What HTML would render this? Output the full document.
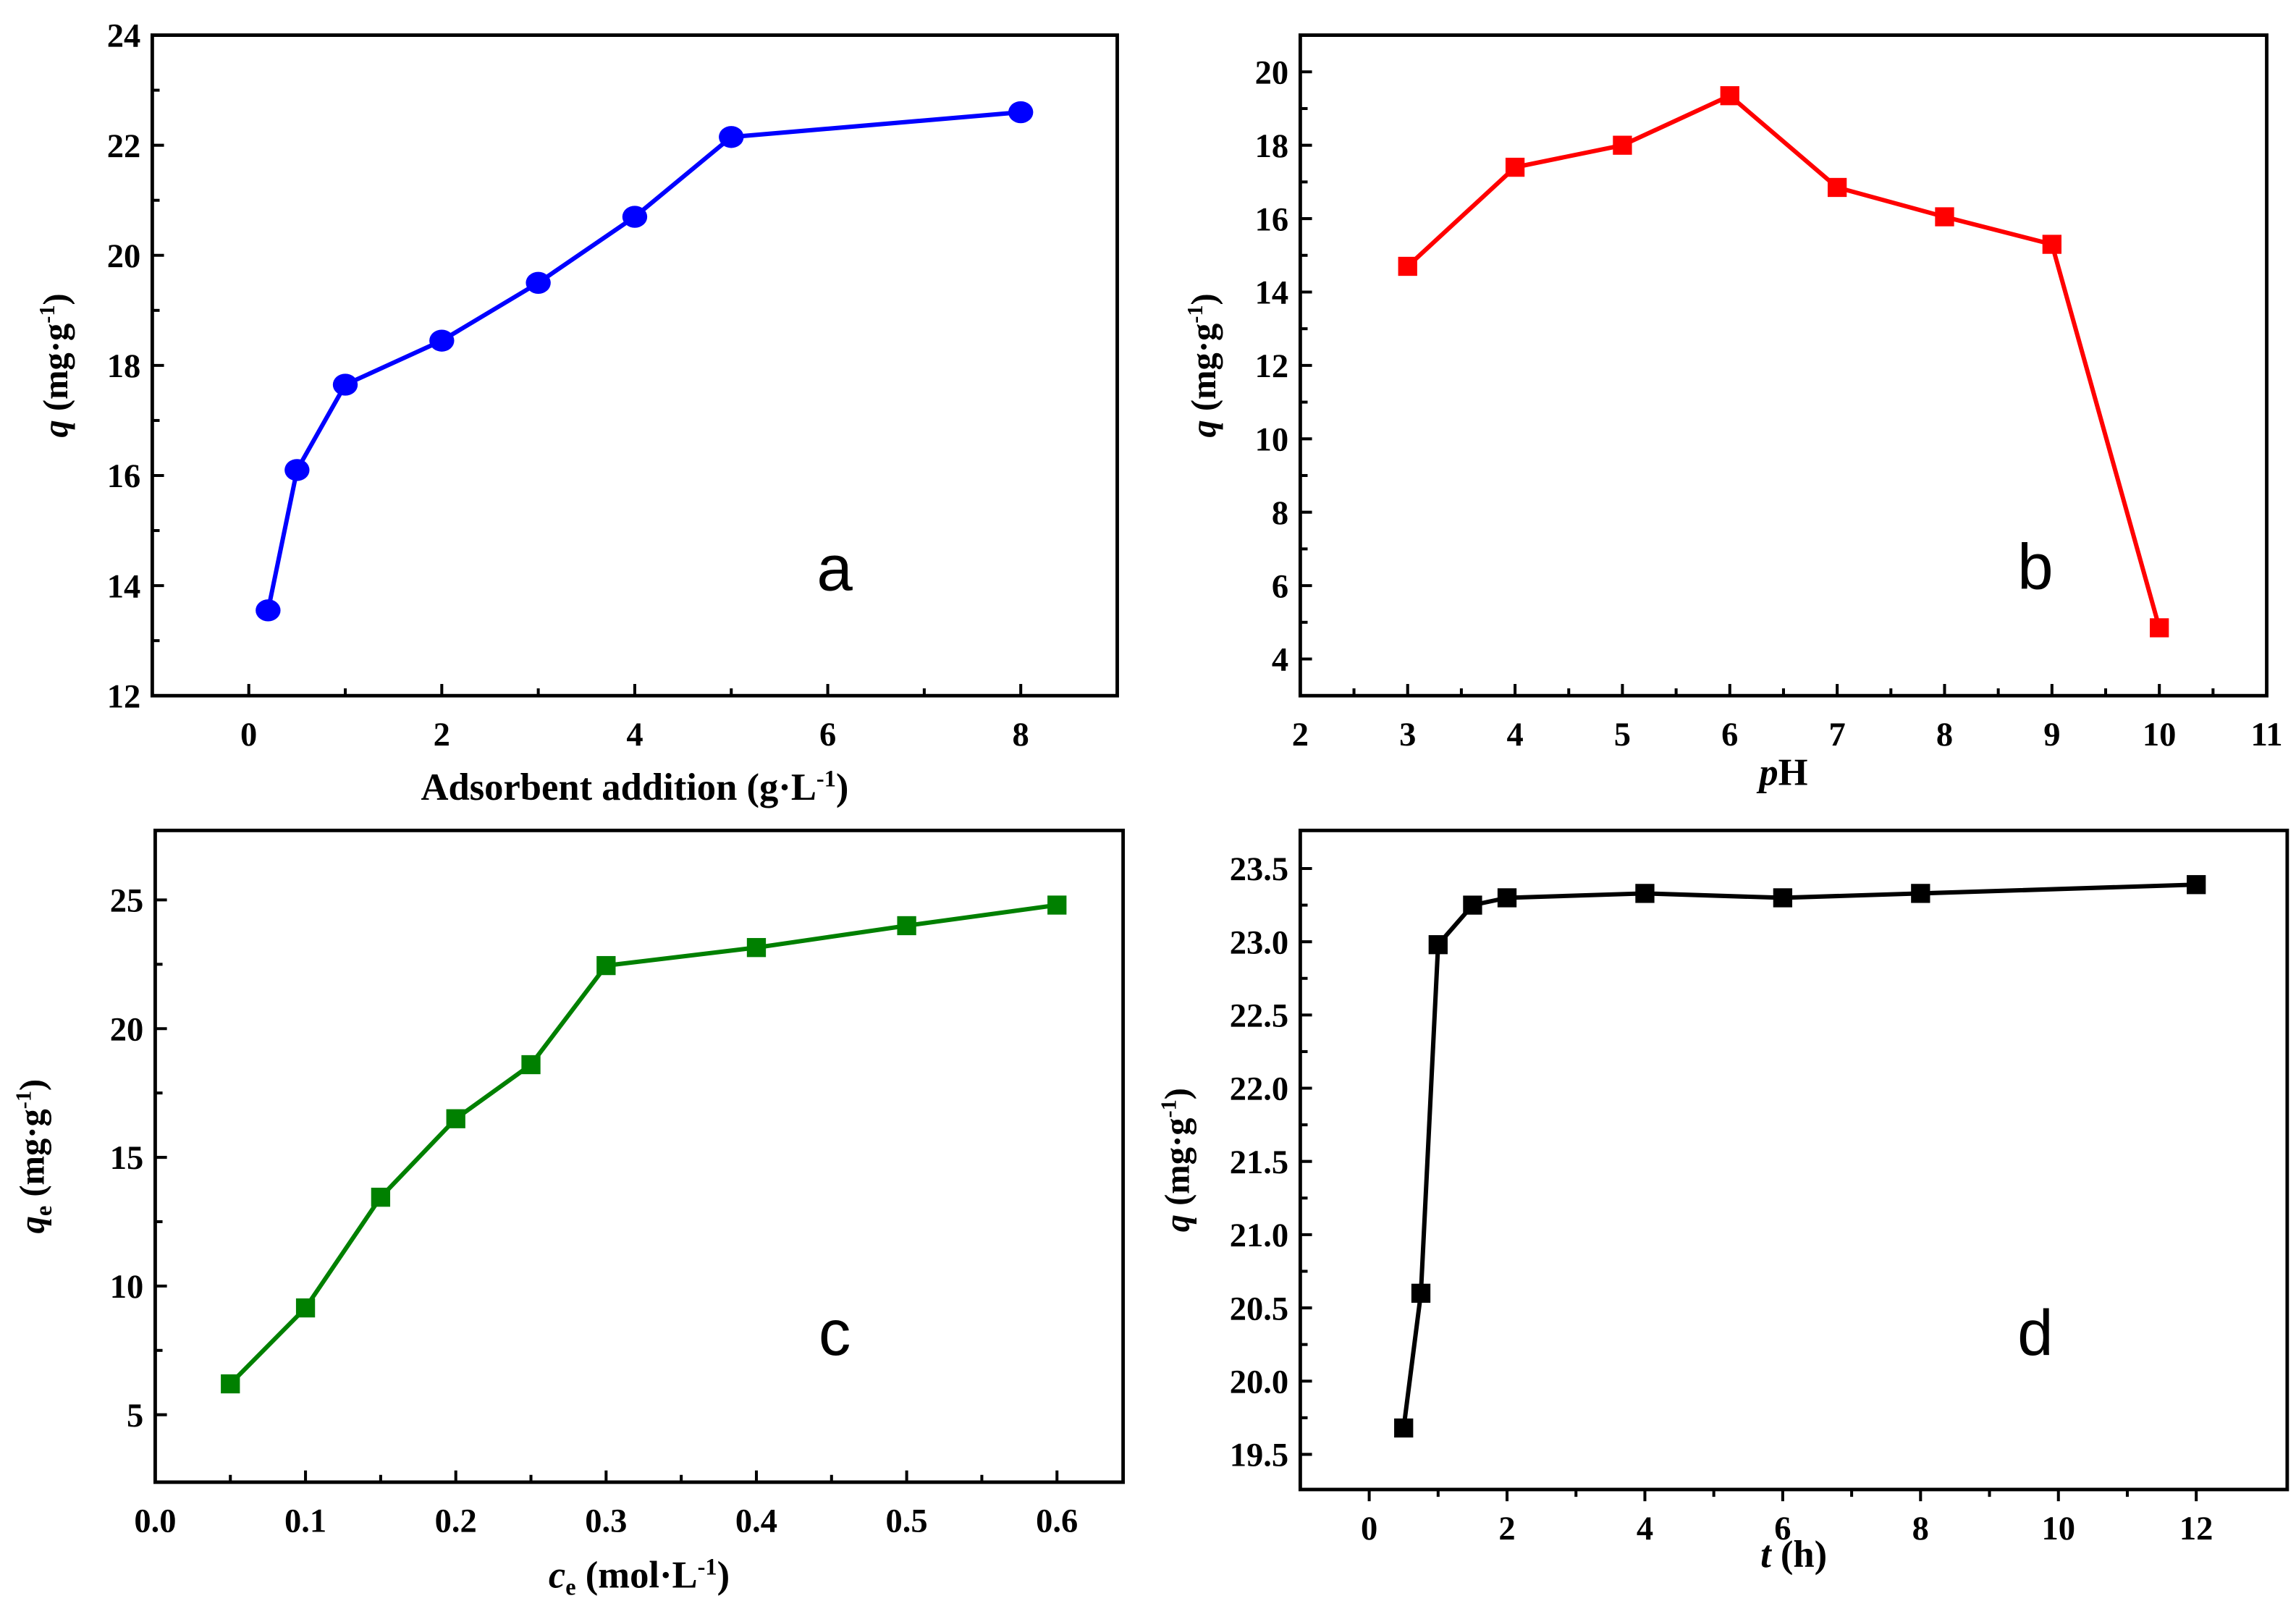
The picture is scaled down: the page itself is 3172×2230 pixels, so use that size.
<!DOCTYPE html>
<html><head><meta charset="utf-8"><style>
html,body{margin:0;padding:0;background:#fff;width:3172px;height:2230px;overflow:hidden}
svg{display:block}
text{font-family:"Liberation Serif",serif;font-weight:bold}
</style></head><body>
<svg id="fig" width="3172" height="2230" viewBox="0 0 1568 1102" preserveAspectRatio="none" xmlns="http://www.w3.org/2000/svg"></svg>
<script>
// Panel a
const aX = [0.2,0.5,1,2,3,4,5,8];
const aY = [13.55,16.1,17.65,18.45,19.5,20.7,22.15,22.6];
const aXTicks = [0,2,4,6,8];
const aYTicks = [12,14,16,18,20,22,24];
// Panel b
const bX = [3,4,5,6,7,8,9,10];
const bY = [14.7,17.4,18.0,19.35,16.85,16.05,15.3,4.85];
const bXTicks = [2,3,4,5,6,7,8,9,10,11];
const bYTicks = [4,6,8,10,12,14,16,18,20];
// Panel c
const cX = [0.05,0.1,0.15,0.2,0.25,0.3,0.4,0.5,0.6];
const cY = [6.2,9.15,13.45,16.5,18.6,22.45,23.15,24.0,24.8];
const cXTicks = [0.0,0.1,0.2,0.3,0.4,0.5,0.6];
const cYTicks = [5,10,15,20,25];
// Panel d
const dX = [0.5,0.75,1,1.5,2,4,6,8,12];
const dY = [19.68,20.6,22.98,23.25,23.3,23.33,23.3,23.33,23.39];
const dXTicks = [0,2,4,6,8,10,12];
const dYTicks = [19.5,20.0,20.5,21.0,21.5,22.0,22.5,23.0,23.5];

const NS="http://www.w3.org/2000/svg";
const svg=document.getElementById('fig');
function mk(tag,attrs,parent){const e=document.createElementNS(NS,tag);for(const k in attrs)e.setAttribute(k,attrs[k]);(parent||svg).appendChild(e);return e;}

function panel(o){
  const g=mk('g',{});
  
  
  const sx=v=>o.L+(v-o.x0)/(o.x1-o.x0)*(o.R-o.L);
  const sy=v=>o.B-(v-o.y0)/(o.y1-o.y0)*(o.B-o.T);
  const fr=mk('rect',{x:o.L,y:o.T,width:o.R-o.L,height:o.B-o.T,fill:'none',stroke:'#000','stroke-width':2.4},g);
  
  
  const xd=o.xOut?1:-1;
  for(let i=0;i<o.xt.length;i++){
    const v=o.xt[i];const x=sx(v);
    mk('line',{x1:x,x2:x,y1:o.B,y2:o.B+xd*8,stroke:'#000','stroke-width':2},g);
    const t=mk('text',{x:x,y:o.B+34,'text-anchor':'middle','font-size':23},g);
    t.textContent=v.toFixed(o.xdec);
    
    
    if(i<o.xt.length-1){const m=sx((v+o.xt[i+1])/2);mk('line',{x1:m,x2:m,y1:o.B,y2:o.B+xd*5,stroke:'#000','stroke-width':2},g);}
  }
  for(let i=0;i<o.yt.length;i++){
    const v=o.yt[i];const y=sy(v);
    mk('line',{x1:o.L,x2:o.L+8,y1:y,y2:y,stroke:'#000','stroke-width':2},g);
    const t=mk('text',{x:o.L-8,y:y+8,'text-anchor':'end','font-size':23},g);
    t.textContent=v.toFixed(o.ydec);
    
    
    if(i<o.yt.length-1){const m=sy((v+o.yt[i+1])/2);mk('line',{x1:o.L,x2:o.L+5,y1:m,y2:m,stroke:'#000','stroke-width':2},g);}
  }
  const pts=o.xs.map((v,i)=>sx(v)+','+sy(o.ys[i])).join(' ');
  const pl=mk('polyline',{points:pts,fill:'none',stroke:o.color,'stroke-width':3},g);
  
  
  o.xs.forEach((v,i)=>{
    let m;
    if(o.circle) m=mk('ellipse',{cx:sx(v),cy:sy(o.ys[i]),rx:8.5,ry:7.5,fill:o.color},g);
    else m=mk('rect',{x:sx(v)-6.5,y:sy(o.ys[i])-6.5,width:13,height:13,fill:o.color},g);
    
    
  });
  const xl=mk('text',{x:(o.L+o.R)/2,y:o.xlY,'text-anchor':'middle','font-size':26},g);
  xl.innerHTML=o.xlab;
  
  
  const yl=mk('text',{x:0,y:0,'text-anchor':'middle','font-size':24,transform:`translate(${o.ylX},${(o.T+o.B)/2}) rotate(-90)`},g);
  yl.innerHTML=o.ylab;
  
  
  const pl2=mk('text',{x:o.lx,y:o.ly,'text-anchor':'middle','font-size':44,style:'font-family:"Liberation Sans",sans-serif;font-weight:normal'},g);
  pl2.textContent=o.letter;
  
  
}
const qlab='<tspan font-style="italic">q</tspan> (mg·g<tspan font-size="15" dy="-9">-1</tspan><tspan dy="9">)</tspan>';
panel({name:'panel-a',L:104,R:763,T:24,B:475,x0:-1,x1:9,y0:12,y1:24,xt:aXTicks,yt:aYTicks,xdec:0,ydec:0,xs:aX,ys:aY,color:'#0000ff',circle:true,
  xlab:'Adsorbent addition (g·L<tspan font-size="16" dy="-9">-1</tspan><tspan dy="9">)</tspan>',xlY:546,ylab:qlab,ylX:46,letter:'a',lx:570,ly:403});
panel({name:'panel-b',L:888,R:1548,T:24,B:475,x0:2,x1:11,y0:3,y1:21,xt:bXTicks,yt:bYTicks,xdec:0,ydec:0,xs:bX,ys:bY,color:'#ff0000',
  xlab:'<tspan font-style="italic">p</tspan>H',xlY:536,ylab:qlab,ylX:830,letter:'b',lx:1390,ly:402});
panel({name:'panel-c',L:106,R:767,T:567,B:1012,x0:0,x1:0.644,y0:2.38,y1:27.7,xt:cXTicks,yt:cYTicks,xdec:1,ydec:0,xs:cX,ys:cY,color:'#008000',
  xlab:'<tspan font-style="italic">c</tspan><tspan font-size="16" dy="5">e</tspan><tspan dy="-5"> (mol·L</tspan><tspan font-size="16" dy="-9">-1</tspan><tspan dy="9">)</tspan>',xlY:1084,
  ylab:'<tspan font-style="italic">q</tspan><tspan font-size="16" dy="5">e</tspan><tspan dy="-5"> (mg·g</tspan><tspan font-size="15" dy="-9">-1</tspan><tspan dy="9">)</tspan>',ylX:30,letter:'c',lx:570,ly:925});
panel({name:'panel-d',L:888,R:1562,T:567,B:1017,x0:-1,x1:13.32,y0:19.26,y1:23.76,xt:dXTicks,yt:dYTicks,xdec:0,ydec:1,xs:dX,ys:dY,color:'#000000',xOut:true,
  xlab:'<tspan font-style="italic">t</tspan> (h)',xlY:1070,ylab:qlab,ylX:812,letter:'d',lx:1390,ly:925});
</script>
</body></html>
